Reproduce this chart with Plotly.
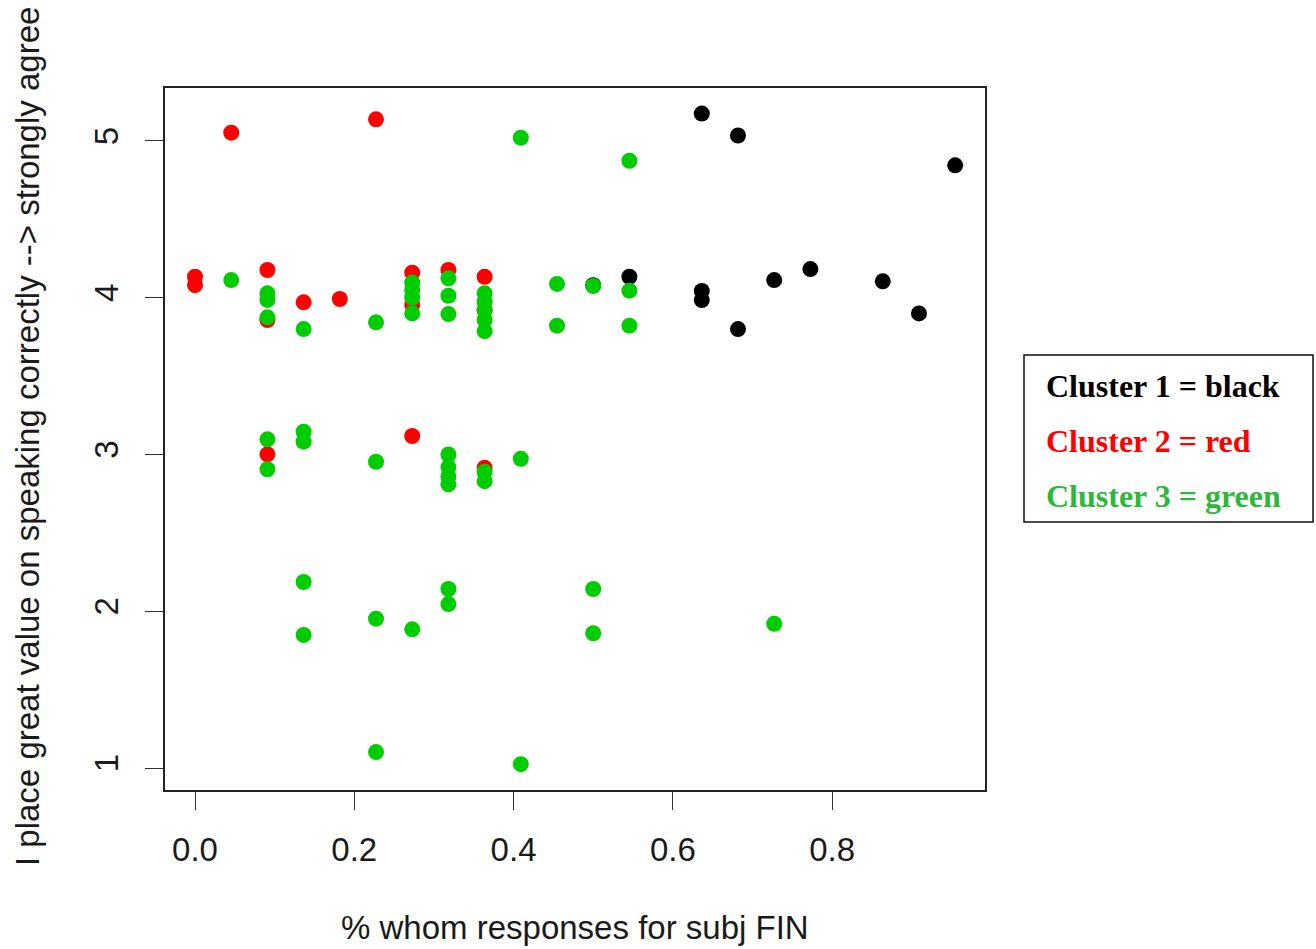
import plotly.graph_objects as go

# ---- data (x = share of responses, y = jittered Likert score) ----
black_x = [14/22, 15/22, 21/22, 11/22, 12/22, 14/22, 14/22, 15/22, 16/22, 17/22, 19/22, 20/22]
black_y = [5.175, 5.035, 4.845, 4.08, 4.134, 4.043, 3.985, 3.80, 4.113, 4.183, 4.105, 3.90]

red_x = [0, 0, 1/22, 2/22, 2/22, 2/22, 3/22, 4/22, 5/22, 6/22, 6/22, 6/22, 7/22, 8/22, 8/22, 8/22]
red_y = [4.134, 4.08, 5.053, 4.177, 3.858, 3.001, 3.971, 3.992, 5.138, 4.16, 3.954, 3.118, 4.177, 4.134, 3.92, 2.915]

green_x = [1/22, 2/22, 2/22, 2/22, 2/22, 2/22, 3/22, 3/22, 3/22, 3/22, 3/22,
           5/22, 5/22, 5/22, 5/22, 6/22, 6/22, 6/22, 6/22, 6/22,
           7/22, 7/22, 7/22, 7/22, 7/22, 7/22, 7/22, 7/22, 7/22,
           8/22, 8/22, 8/22, 8/22, 8/22, 8/22, 8/22,
           9/22, 9/22, 9/22, 10/22, 10/22, 11/22, 11/22, 11/22,
           12/22, 12/22, 12/22, 16/22]
green_y = [4.113, 4.028, 3.986, 3.875, 3.097, 2.906, 3.80, 3.146, 3.082, 2.187, 1.849,
           3.843, 2.954, 1.953, 1.102, 4.097, 4.05, 4.0, 3.90, 1.885,
           4.124, 4.013, 3.896, 3.0, 2.92, 2.86, 2.81, 2.142, 2.046,
           4.028, 3.975, 3.922, 3.858, 3.787, 2.89, 2.83,
           5.021, 2.973, 1.025, 4.088, 3.822, 4.075, 2.142, 1.86,
           4.874, 4.045, 3.822, 1.92]

x_ticks = [0.0, 0.2, 0.4, 0.6, 0.8]
y_ticks = [1, 2, 3, 4, 5]
x_title = "% whom responses for subj FIN"
y_title = "I place great value on speaking correctly --> strongly agree"
legend_lines = ["Cluster 1 = black", "Cluster 2 = red", "Cluster 3 = green"]
legend_colors = ["#000000", "#FF0000", "#2DB83D"]

# ---- layout geometry (page pixels; body margin removed below) ----
W, H = 1316, 949
L, R, T, B = 165, 985, 88, 790


def px(xp):
    return (xp - L) / (R - L)


def py(yp):
    return (B - yp) / (B - T)


fig = go.Figure()
for xs, ys, c in [(black_x, black_y, "#000000"), (red_x, red_y, "#FF0000"), (green_x, green_y, "#00CD00")]:
    fig.add_trace(go.Scatter(x=xs, y=ys, mode="markers",
                             marker=dict(size=16, color=c, line=dict(width=0)),
                             showlegend=False, hoverinfo="skip"))

FONT = "Liberation Sans, Arial, sans-serif"
axis_font = dict(family=FONT, size=33, color="#1a1a1a")

fig.update_layout(
    width=W, height=H,
    margin=dict(l=L, r=W - R, t=T, b=H - B),
    paper_bgcolor="white", plot_bgcolor="white",
    xaxis=dict(range=[-0.0377, 0.992], tickvals=x_ticks, tickformat=".1f",
               showgrid=False, zeroline=False, showline=True, mirror=True,
               linecolor="#222", linewidth=1.6, ticks="outside", ticklen=18,
               tickwidth=1.3, tickcolor="#333", tickfont=axis_font,
               ticklabelstandoff=12),
    yaxis=dict(range=[0.86, 5.338], tickvals=y_ticks,
               showgrid=False, zeroline=False, showline=True, mirror=True,
               linecolor="#222", linewidth=1.6, ticks="outside", ticklen=18,
               tickwidth=1.3, tickcolor="#333", tickfont=axis_font,
               tickangle=-90, ticklabelstandoff=14),
)

fig.add_annotation(text=y_title, xref="paper", yref="paper", x=px(27), y=py(437),
                   textangle=-90, showarrow=False, xanchor="center", yanchor="middle",
                   font=dict(family=FONT, size=33, color="#1a1a1a"))
fig.add_annotation(text=x_title, xref="paper", yref="paper", x=px(575), y=py(927),
                   showarrow=False, xanchor="center", yanchor="middle",
                   font=dict(family=FONT, size=33, color="#1a1a1a"))

# legend box
fig.add_shape(type="rect", xref="paper", yref="paper",
              x0=px(1024), x1=px(1313), y0=py(522), y1=py(355),
              line=dict(color="#111", width=1.5), fillcolor="white")
for i, (txt, col) in enumerate(zip(legend_lines, legend_colors)):
    fig.add_annotation(text="<b>%s</b>" % txt, xref="paper", yref="paper",
                       x=px(1044), y=py(386 + 55 * i), showarrow=False,
                       xanchor="left", yanchor="middle",
                       font=dict(family="Liberation Serif, Times New Roman, serif", size=32, color=col))

fig.write_html("out.html", config={"displayModeBar": False},
               post_script="document.body.style.margin='0';document.body.style.overflow='hidden';")
